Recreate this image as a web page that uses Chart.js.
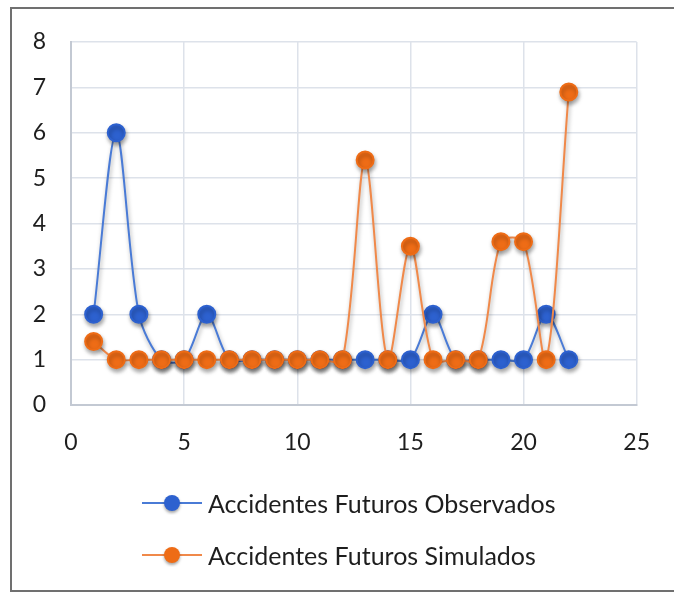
<!DOCTYPE html>
<html>
<head>
<meta charset="utf-8">
<script src="https://cdn.jsdelivr.net/npm/chart.js@4.4.1/dist/chart.umd.min.js"></script>
<style>
  html, body { margin: 0; padding: 0; background: #fff; }
  #wrap { position: relative; width: 674px; height: 593px; overflow: hidden; }
  #frame { position: absolute; left: 10px; top: 7px; width: 700px; height: 585px; border: 2px solid #707070; box-sizing: border-box; }
  #c { position: absolute; left: 0; top: 0; }
  #legend { position: absolute; left: 140px; top: 477px; font-family: Lato, "Open Sans", sans-serif; font-size: 25px; color: #1e1e1e; }
  .item { display: flex; align-items: center; height: 52px; }
  .item canvas { margin-right: 2px; }
</style>
</head>
<body>
<div id="wrap">
  <div id="frame"></div>
  <canvas id="c" width="674" height="593"></canvas>
  <div id="legend"></div>
</div>
<script>
const xValues = [1,2,3,4,5,6,7,8,9,10,11,12,13,14,15,16,17,18,19,20,21,22];
const observados = [2,6,2,1,1,2,1,1,1,1,1,1,1,1,1,2,1,1,1,1,2,1];
const simulados = [1.4,1,1,1,1,1,1,1,1,1,1,1,5.4,1,3.5,1,1,1,3.6,3.6,1,6.9];
const seriesNames = ["Accidentes Futuros Observados", "Accidentes Futuros Simulados"];
const xTicks = [0,5,10,15,20,25];
const yTicks = [0,1,2,3,4,5,6,7,8];

const colors = [
  { line: "#4a7bd6", point: "#2d61cf" },
  { line: "#f0894a", point: "#ee6c16" }
];

function toPts(vals) { return vals.map((v, i) => ({ x: xValues[i], y: v })); }

const shadowPlugin = {
  id: "shadow",
  beforeDatasetsDraw(chart) {
    const ctx = chart.ctx;
    ctx.save();
    ctx.shadowColor = "rgba(0,0,0,0.35)";
    ctx.shadowBlur = 4;
    ctx.shadowOffsetX = 1;
    ctx.shadowOffsetY = 3;
  },
  afterDatasetsDraw(chart) { chart.ctx.restore(); }
};

const tickFont = { family: "Lato, 'Open Sans', sans-serif", size: 23 };

const chart = new Chart(document.getElementById("c"), {
  type: "scatter",
  data: {
    datasets: [
      { label: seriesNames[0], data: toPts(observados), showLine: true, borderColor: colors[0].line, backgroundColor: colors[0].point,
        pointBackgroundColor: colors[0].point, pointBorderColor: colors[0].point, borderWidth: 2, pointRadius: 8.5, tension: 0.3, order: 1 },
      { label: seriesNames[1], data: toPts(simulados), showLine: true, borderColor: colors[1].line, backgroundColor: colors[1].point,
        pointBackgroundColor: colors[1].point, pointBorderColor: colors[1].point, borderWidth: 2, pointRadius: 8.5, tension: 0.3, order: 0 }
    ]
  },
  options: {
    responsive: false,
    animation: false,
    clip: false,
    layout: { padding: { left: 20, right: 37, top: 42, bottom: 138 } },
    plugins: { legend: { display: false }, tooltip: { enabled: false } },
    scales: {
      x: {
        type: "linear", min: 0, max: 25,
        afterBuildTicks(s) { s.ticks = xTicks.map(v => ({ value: v })); },
        afterFit(s) { s.height = 50; },
        ticks: { padding: 24, color: "#1e1e1e", font: tickFont, maxRotation: 0 },
        grid: { color: "#dde2ea", lineWidth: 1.5, drawTicks: false },
        border: { color: "#c3c9d3", width: 2 }
      },
      y: {
        min: 0, max: 8,
        afterBuildTicks(s) { s.ticks = yTicks.map(v => ({ value: v })); },
        afterFit(s) { s.width = 51; },
        ticks: { padding: 25, color: "#1e1e1e", font: tickFont },
        grid: { color: "#dde2ea", lineWidth: 1.5, drawTicks: false },
        border: { color: "#c3c9d3", width: 2 }
      }
    }
  },
  plugins: [shadowPlugin]
});

// HTML legend built from the datasets
const legend = document.getElementById("legend");
chart.data.datasets.forEach((ds) => {
  const item = document.createElement("div");
  item.className = "item";
  const sym = document.createElement("canvas");
  sym.width = 66; sym.height = 24;
  const g = sym.getContext("2d");
  g.strokeStyle = ds.borderColor; g.lineWidth = 2;
  g.beginPath(); g.moveTo(2, 12); g.lineTo(62, 12); g.stroke();
  g.shadowColor = "rgba(0,0,0,0.35)"; g.shadowBlur = 3; g.shadowOffsetY = 2;
  g.fillStyle = ds.pointBackgroundColor;
  g.beginPath(); g.arc(32, 12, 8, 0, Math.PI * 2); g.fill();
  const span = document.createElement("span");
  span.textContent = ds.label;
  item.appendChild(sym); item.appendChild(span);
  legend.appendChild(item);
});
</script>
</body>
</html>
